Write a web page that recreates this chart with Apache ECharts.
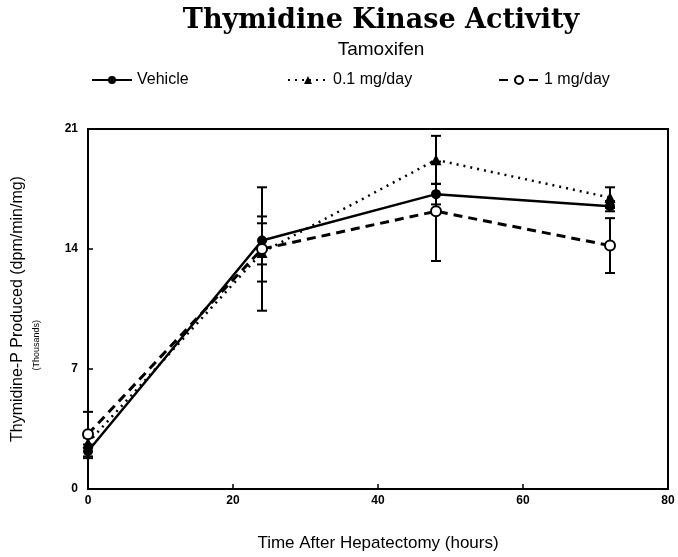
<!DOCTYPE html>
<html><head><meta charset="utf-8">
<script src="https://cdn.jsdelivr.net/npm/echarts@6/dist/echarts.min.js"></script>
<style>html,body{margin:0;padding:0;background:#fff}#c{width:678px;height:557px}</style>
</head><body><div id="c"></div>
<script>
var hours = [0, 24, 48, 72];
var vehicle = [2.2, 14.5, 17.2, 16.5];
var vehicleErr = [0.4, 1.4, 0.6, 0.3];
var low = [2.7, 13.8, 19.2, 17.0];
var lowErr = [0.3, 1.7, 1.4, 0.6];
var high = [3.2, 14.0, 16.2, 14.2];
var highErr = [1.3, 3.6, 2.9, 1.6];
var seriesNames = ['Vehicle', '0.1 mg/day', '1 mg/day'];

function pairs(v){ return hours.map(function(h,i){ return [h, v[i]]; }); }
function errData(v, e){ return hours.map(function(h,i){ return [h, v[i]-e[i], v[i]+e[i]]; }); }
function errSeries(v, e){
  return {
    type: 'custom', silent: true, z: 1,
    data: errData(v, e),
    renderItem: function(params, api){
      var lo = api.coord([api.value(0), api.value(1)]);
      var hi = api.coord([api.value(0), api.value(2)]);
      var w = 5;
      var st = {stroke:'#000', lineWidth:2};
      return {type:'group', children:[
        {type:'line', shape:{x1:lo[0], y1:lo[1], x2:hi[0], y2:hi[1]}, style:st},
        {type:'line', shape:{x1:lo[0]-w, y1:lo[1], x2:lo[0]+w, y2:lo[1]}, style:st},
        {type:'line', shape:{x1:hi[0]-w, y1:hi[1], x2:hi[0]+w, y2:hi[1]}, style:st}
      ]};
    }
  };
}
var sans = 'Liberation Sans';
var legendLefts = [86, 282, 493];
var legends = seriesNames.map(function(n, i){
  return {
    top: 67, left: legendLefts[i], itemWidth: 40, itemHeight: 10, itemGap: 6,
    textStyle: {fontFamily: sans, fontSize: 16, color: '#000'},
    data: [n]
  };
});
var chart = echarts.init(document.getElementById('c'));
chart.setOption({
  animation: false,
  title: [
    {text: 'Thymidine Kinase Activity', left: 376, top: 2, textAlign: 'center',
     textStyle: {fontFamily: 'DejaVu Serif', fontWeight: 'bold', fontSize: 27, color: '#000'}},
    {text: 'Tamoxifen', left: 376, top: 35, textAlign: 'center',
     textStyle: {fontFamily: sans, fontWeight: 'normal', fontSize: 19, color: '#000'}}
  ],
  legend: legends,
  grid: {left: 88, right: 10, top: 129, bottom: 66, show: true, borderColor: '#000', borderWidth: 2},
  xAxis: {
    type: 'value', min: 0, max: 80, interval: 20,
    name: 'Time After Hepatectomy (hours)', nameLocation: 'middle', nameGap: 46,
    nameTextStyle: {fontFamily: sans, fontSize: 17, color: '#000'},
    axisLine: {lineStyle: {color: '#000', width: 2}},
    axisTick: {inside: true, length: 5, lineStyle: {color: '#000', width: 1.5}},
    axisLabel: {fontFamily: sans, fontWeight: 'bold', fontSize: 12, color: '#000', margin: 6},
    splitLine: {show: false}
  },
  yAxis: {
    type: 'value', min: 0, max: 21, interval: 7,
    name: 'Thymidine-P Produced (dpm/min/mg)', nameLocation: 'middle', nameGap: 62,
    nameTextStyle: {fontFamily: sans, fontSize: 16, color: '#000'},
    axisLine: {lineStyle: {color: '#000', width: 2}},
    axisTick: {inside: true, length: 5, lineStyle: {color: '#000', width: 1.5}},
    axisLabel: {fontFamily: sans, fontWeight: 'bold', fontSize: 12, color: '#000', margin: 10},
    splitLine: {show: false}
  },
  graphic: [{
    type: 'text', left: 32, top: 320, rotation: Math.PI/2,
    style: {text: '(Thousands)', font: '9px "Liberation Sans"', fill: '#000'}
  }],
  series: [
    errSeries(vehicle, vehicleErr),
    errSeries(low, lowErr),
    errSeries(high, highErr),
    {name: seriesNames[0], type: 'line', data: pairs(vehicle), symbol: 'circle', symbolSize: 10,
     lineStyle: {color: '#000', width: 2.5, type: 'solid'}, itemStyle: {color: '#000'}, z: 3},
    {name: seriesNames[1], type: 'line', data: pairs(low), symbol: 'triangle', symbolSize: 11,
     lineStyle: {color: '#000', width: 2.5, type: [2, 5]}, itemStyle: {color: '#000'}, z: 3},
    {name: seriesNames[2], type: 'line', data: pairs(high), symbol: 'emptyCircle', symbolSize: 10,
     lineStyle: {color: '#000', width: 3, type: [9, 6]}, itemStyle: {color: '#000', borderWidth: 2.5}, z: 3}
  ]
});
</script></body></html>
